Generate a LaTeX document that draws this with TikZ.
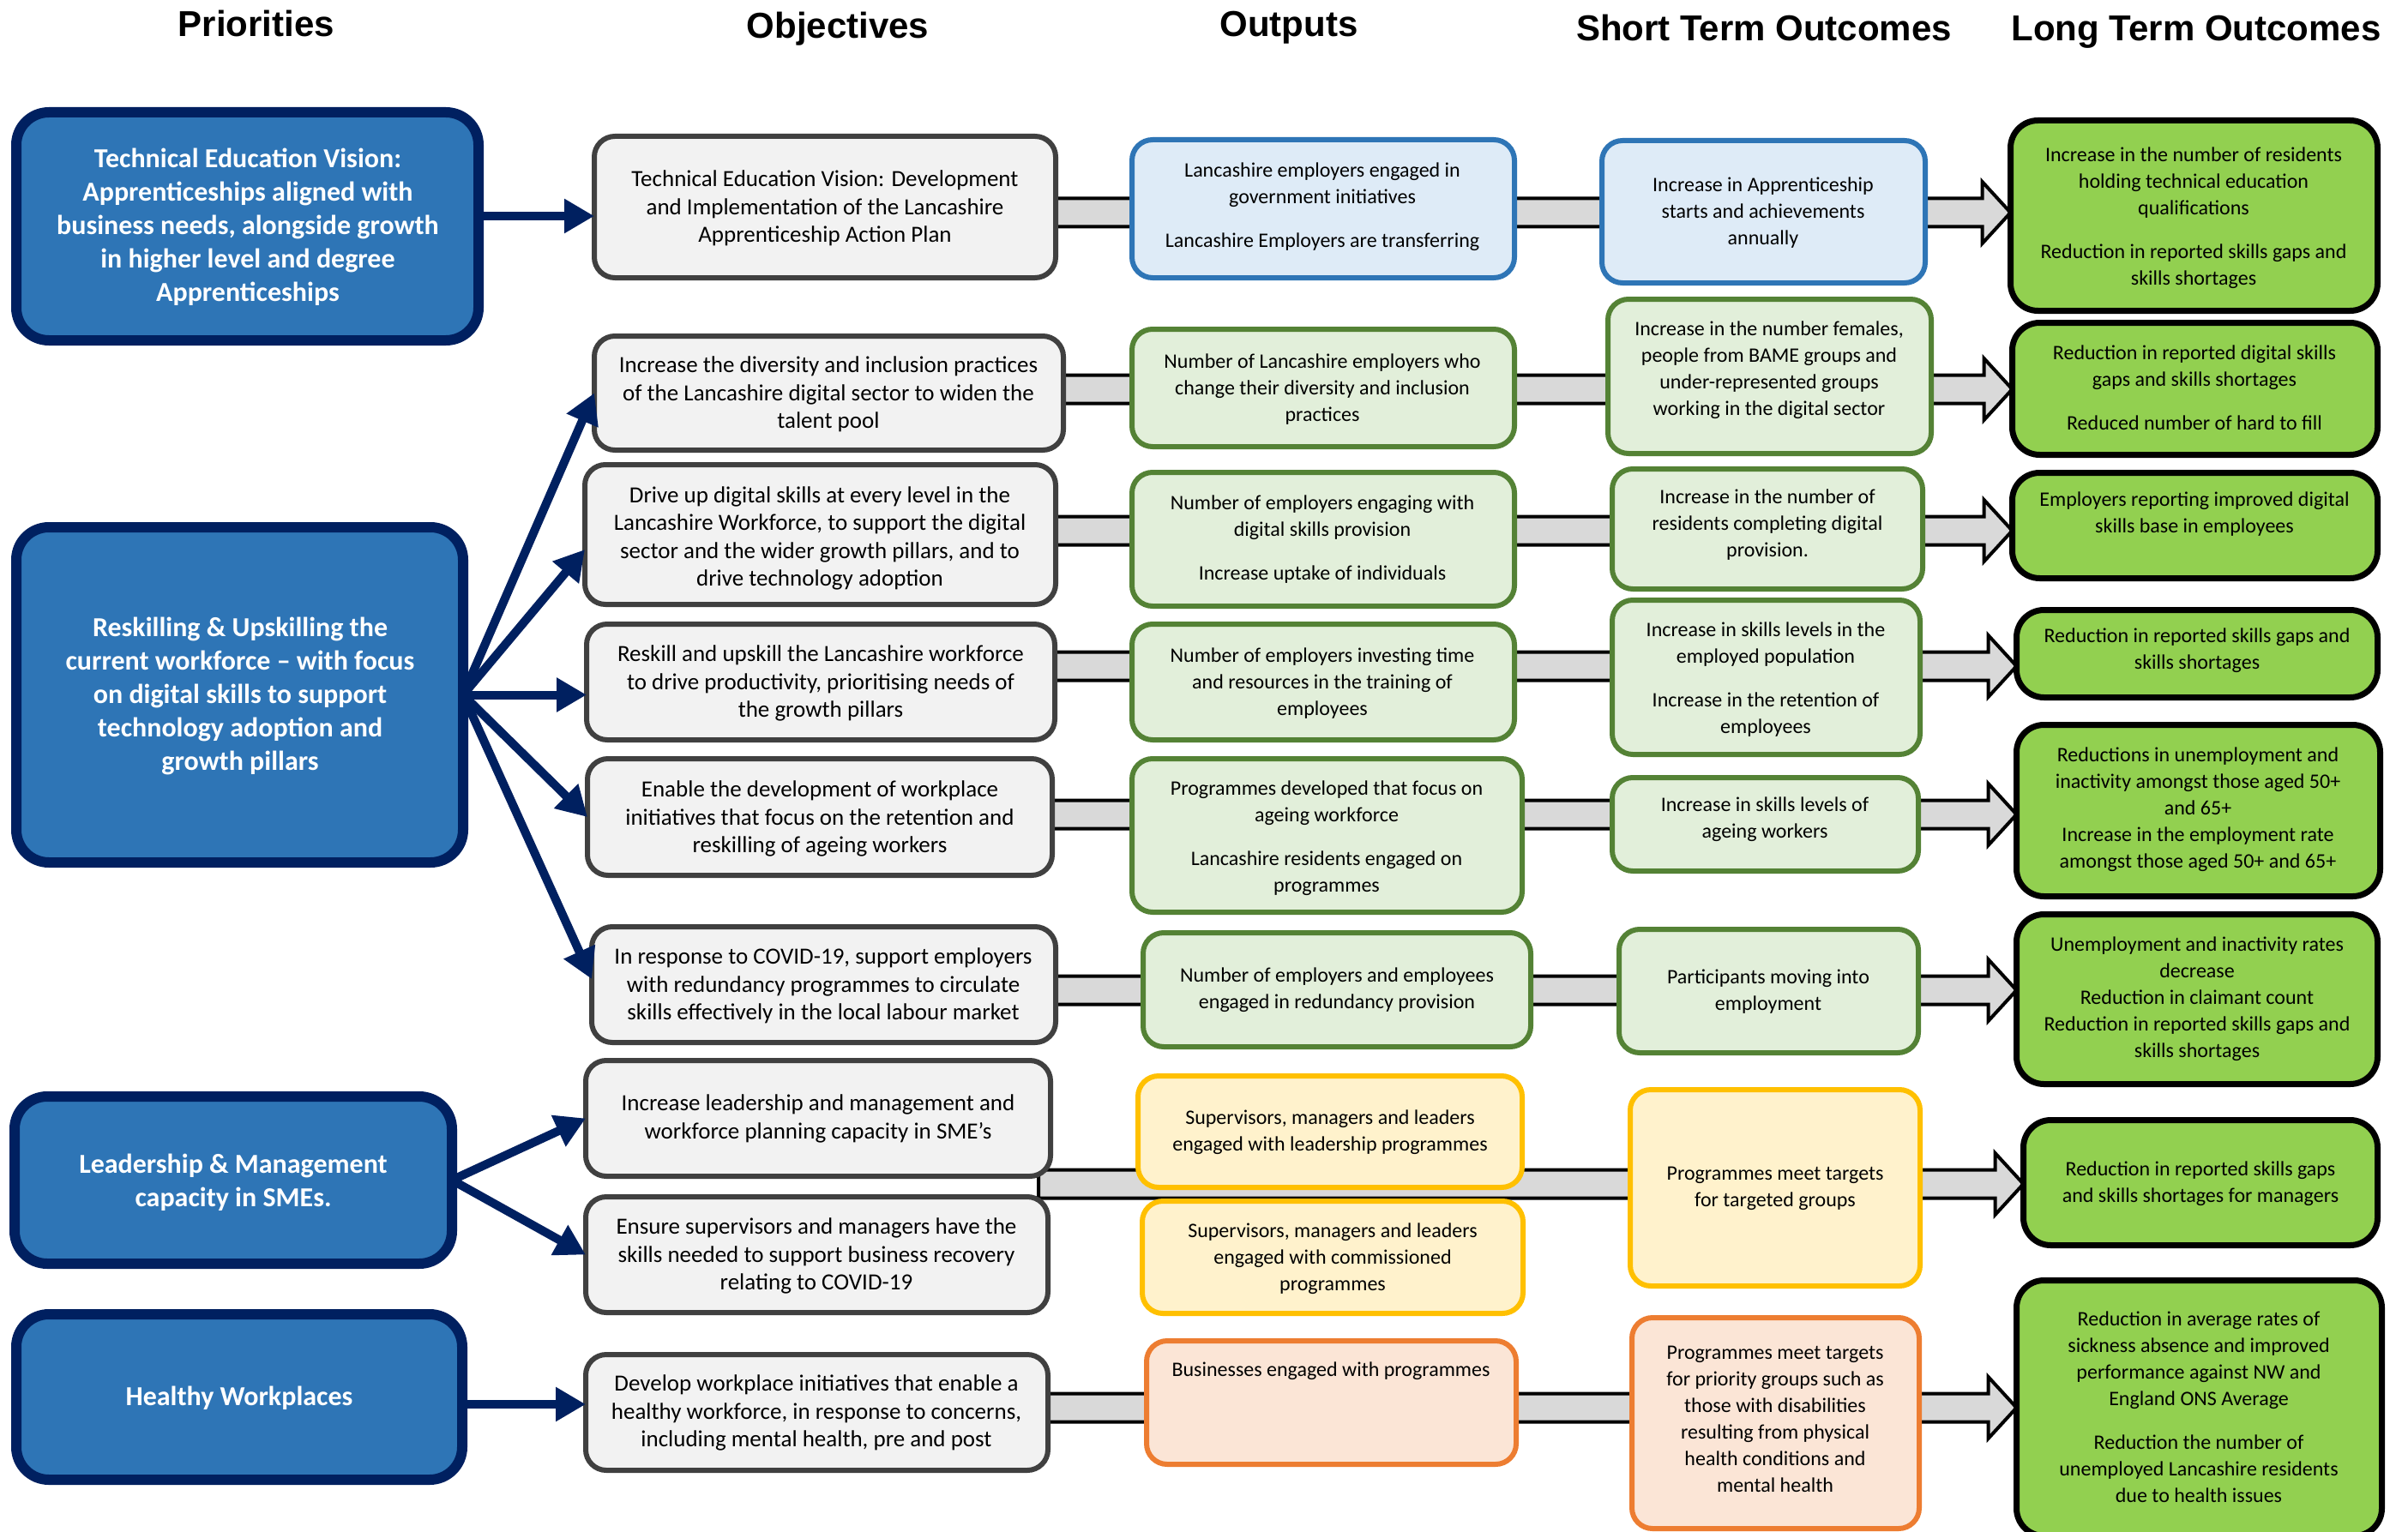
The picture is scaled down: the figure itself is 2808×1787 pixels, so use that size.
\documentclass[tikz,border=0pt]{standalone}
\usepackage{fontspec}
\setmainfont{Carlito}
\newfontfamily\hdrfont{Liberation Sans}
\usetikzlibrary{arrows.meta,calc}
\pgfdeclarelayer{background}
\pgfsetlayers{background,main}

\definecolor{navy}{HTML}{002060}
\definecolor{pblue}{HTML}{2E75B6}
\definecolor{objfill}{HTML}{F2F2F2}
\definecolor{objdraw}{HTML}{404040}
\definecolor{bluefill}{HTML}{DEEBF7}
\definecolor{greenfill}{HTML}{E2EFDA}
\definecolor{greendraw}{HTML}{548235}
\definecolor{ltfill}{HTML}{92D050}
\definecolor{yelfill}{HTML}{FFF2CC}
\definecolor{yeldraw}{HTML}{FFC000}
\definecolor{orfill}{HTML}{FBE5D6}
\definecolor{ordraw}{HTML}{ED7D31}
\definecolor{barfill}{HTML}{D9D9D9}

\tikzset{
  boxbase/.style={rectangle, inner sep=0pt, outer sep=0pt},
  prio/.style={boxbase, fill=pblue, draw=navy, rounded corners=38pt},
  objbox/.style={boxbase, fill=objfill, draw=objdraw, rounded corners=24pt},
  outblue/.style={boxbase, fill=bluefill, draw=pblue, rounded corners=24pt},
  outgreen/.style={boxbase, fill=greenfill, draw=greendraw, rounded corners=24pt},
  outyel/.style={boxbase, fill=yelfill, draw=yeldraw, rounded corners=24pt},
  outor/.style={boxbase, fill=orfill, draw=ordraw, rounded corners=24pt},
  ltbox/.style={boxbase, fill=ltfill, draw=black, rounded corners=32pt},
  ptext/.style={text=white, align=center, inner sep=0pt, font=\bfseries\fontsize{32}{39}\selectfont},
  otext/.style={align=center, inner sep=0pt, font=\fontsize{27}{32.5}\selectfont},
  stext/.style={align=center, inner sep=0pt, font=\fontsize{24}{31}\selectfont},
  hdr/.style={anchor=base, inner sep=0pt, font=\hdrfont\bfseries\fontsize{42}{50}\selectfont},
  navyarrow/.style={draw=navy, line width=10pt, -{Triangle[length=35pt,width=38pt]}},
  bar/.style={fill=barfill, draw=black, line width=4pt, line join=miter},
}

% style, name, x1, y1, x2, y2, line width
\newcommand\mkbox[7]{\node[#1, line width=#7pt, minimum width={#5-#3-#7}, minimum height={#6-#4-#7}] (#2) at ({(#3+#5)/2},{(#4+#6)/2}) {};}
% from node, to node, y
\newcommand\gbar[3]{\path[bar] let \p1=(#1.east |- 0,#3), \p2=(#2.west |- 0,#3) in
  (\x1-14pt,\y1+16.5pt) -- (\x2-33pt,\y1+16.5pt) -- (\x2-33pt,\y1+36pt) -- (\x2,\y1)
  -- (\x2-33pt,\y1-36pt) -- (\x2-33pt,\y1-16.5pt) -- (\x1-14pt,\y1-16.5pt) -- cycle;}

\begin{document}
\begin{tikzpicture}[x=1pt,y=-1pt]
\useasboundingbox (0,0) rectangle (2808,1787);

% headers
\node[hdr] (h1) at (299,43) {Priorities};
\node[hdr] (h2) at (977,45) {Objectives};
\node[hdr] (h3) at (1503,43) {Outputs};
\node[hdr] (h4) at (2057,48) {Short Term Outcomes};
\node[hdr] (h5) at (2561,48) {Long Term Outcomes};

% priorities
\mkbox{prio}{P1}{13}{125}{564}{403}{12}
\mkbox{prio}{P2}{13}{609}{546}{1012}{12}
\mkbox{prio}{P3}{11}{1273}{533}{1480}{12}
\mkbox{prio}{P4}{13}{1527}{545}{1732}{12}
\node[ptext] (P1-t) at (289,265) {Technical Education Vision:\\Apprenticeships aligned with\\business needs, alongside growth\\in higher level and degree\\Apprenticeships};
\node[ptext] (P2-t) at (280,812) {Reskilling \& Upskilling the\\current workforce -- with focus\\on digital skills to support\\technology adoption and\\growth pillars};
\node[ptext] (P3-t) at (272,1379) {Leadership \& Management\\capacity in SMEs.};
\node[ptext] (P4-t) at (279,1631) {Healthy Workplaces};

% objectives
\mkbox{objbox}{O1}{690}{156}{1234}{327}{6}
\mkbox{objbox}{O2}{690}{389}{1243}{528}{6}
\mkbox{objbox}{O3}{679}{539}{1234}{708}{6}
\mkbox{objbox}{O4}{681}{725}{1233}{866}{6}
\mkbox{objbox}{O5}{682}{882}{1230}{1024}{6}
\mkbox{objbox}{O6}{687}{1078}{1234}{1219}{6}
\mkbox{objbox}{O7}{680}{1234}{1228}{1375}{6}
\mkbox{objbox}{O8}{680}{1393}{1225}{1534}{6}
\mkbox{objbox}{O9}{680}{1577}{1225}{1718}{6}
\node[otext] (O1-t) at (962,243) {Technical Education Vision: Development\\and Implementation of the Lancashire\\Apprenticeship Action Plan};
\node[otext] (O2-t) at (966,460) {Increase the diversity and inclusion practices\\of the Lancashire digital sector to widen the\\talent pool};
\node[otext] (O3-t) at (956,628) {Drive up digital skills at every level in the\\Lancashire Workforce, to support the digital\\sector and the wider growth pillars, and to\\drive technology adoption};
\node[otext] (O4-t) at (957,797) {Reskill and upskill the Lancashire workforce\\to drive productivity, prioritising needs of\\the growth pillars};
\node[otext] (O5-t) at (956,955) {Enable the development of workplace\\initiatives that focus on the retention and\\reskilling of ageing workers};
\node[otext] (O6-t) at (960,1150) {In response to COVID-19, support employers\\with redundancy programmes to circulate\\skills effectively in the local labour market};
\node[otext] (O7-t) at (954,1305) {Increase leadership and management and\\workforce planning capacity in SME's};
\node[otext] (O8-t) at (952,1465) {Ensure supervisors and managers have the\\skills needed to support business recovery\\relating to COVID-19};
\node[otext] (O9-t) at (952,1648) {Develop workplace initiatives that enable a\\healthy workforce, in response to concerns,\\including mental health, pre and post};

% outputs
\mkbox{outblue}{U1}{1317}{160}{1769}{327}{6}
\mkbox{outgreen}{U2}{1317}{381}{1769}{524}{6}
\mkbox{outgreen}{U3}{1317}{548}{1769}{710}{6}
\mkbox{outgreen}{U4}{1317}{725}{1769}{866}{6}
\mkbox{outgreen}{U5}{1317}{882}{1778}{1067}{6}
\mkbox{outgreen}{U6}{1330}{1085}{1788}{1224}{6}
\mkbox{outyel}{U7}{1324}{1252}{1778}{1388}{6}
\mkbox{outyel}{U8}{1329}{1398}{1779}{1535}{6}
\mkbox{outor}{U9}{1334}{1561}{1771}{1711}{6}
\node[stext] (U1-t) at (1542,241) {Lancashire employers engaged in\\government initiatives\\[20pt]Lancashire Employers are transferring};
\node[stext] (U2-t) at (1542,454) {Number of Lancashire employers who\\change their diversity and inclusion\\practices};
\node[stext] (U3-t) at (1542,629) {Number of employers engaging with\\digital skills provision\\[20pt]Increase uptake of individuals};
\node[stext] (U4-t) at (1542,797) {Number of employers investing time\\and resources in the training of\\employees};
\node[stext] (U5-t) at (1547,978) {Programmes developed that focus on\\ageing workforce\\[20pt]Lancashire residents engaged on\\programmes};
\node[stext] (U6-t) at (1559,1155) {Number of employers and employees\\engaged in redundancy provision};
\node[stext] (U7-t) at (1551,1321) {Supervisors, managers and leaders\\engaged with leadership programmes};
\node[stext] (U8-t) at (1554,1468) {Supervisors, managers and leaders\\engaged with commissioned\\programmes};
\node[stext] (U9-t) at (1552,1599) {Businesses engaged with programmes};

% short term outcomes
\mkbox{outblue}{S1}{1865}{161}{2248}{333}{6}
\mkbox{outgreen}{S2}{1872}{346}{2255}{532}{6}
\mkbox{outgreen}{S3}{1877}{544}{2245}{690}{6}
\mkbox{outgreen}{S4}{1877}{697}{2242}{883}{6}
\mkbox{outgreen}{S5}{1877}{904}{2240}{1019}{6}
\mkbox{outgreen}{S6}{1885}{1081}{2240}{1231}{6}
\mkbox{outyel}{S7}{1898}{1268}{2242}{1503}{6}
\mkbox{outor}{S8}{1900}{1534}{2241}{1786}{6}
\node[stext] (S1-t) at (2056,248) {Increase in Apprenticeship\\starts and achievements\\annually};
\node[stext] (S2-t) at (2063,432) {Increase in the number females,\\people from BAME groups and\\under-represented groups\\working in the digital sector};
\node[stext] (S3-t) at (2061,612) {Increase in the number of\\residents completing digital\\provision.};
\node[stext] (S4-t) at (2059,793) {Increase in skills levels in the\\employed population\\[20pt]Increase in the retention of\\employees};
\node[stext] (S5-t) at (2058,956) {Increase in skills levels of\\ageing workers};
\node[stext] (S6-t) at (2062,1157) {Participants moving into\\employment};
\node[stext] (S7-t) at (2070,1386) {Programmes meet targets\\for targeted groups};
\node[stext] (S8-t) at (2070,1655) {Programmes meet targets\\for priority groups such as\\those with disabilities\\resulting from physical\\health conditions and\\mental health};

% long term outcomes
\mkbox{ltbox}{L1}{2341}{137}{2776}{366}{7}
\mkbox{ltbox}{L2}{2343}{373}{2776}{534}{7}
\mkbox{ltbox}{L3}{2343}{548}{2776}{678}{7}
\mkbox{ltbox}{L4}{2348}{708}{2776}{817}{7}
\mkbox{ltbox}{L5}{2348}{842}{2779}{1049}{7}
\mkbox{ltbox}{L6}{2348}{1063}{2776}{1268}{7}
\mkbox{ltbox}{L7}{2356}{1303}{2776}{1456}{7}
\mkbox{ltbox}{L8}{2348}{1490}{2781}{1795}{7}
\node[stext] (L1-t) at (2558,254) {Increase in the number of residents\\holding technical education\\qualifications\\[20pt]Reduction in reported skills gaps and\\skills shortages};
\node[stext] (L2-t) at (2559,452) {Reduction in reported digital skills\\gaps and skills shortages\\[20pt]Reduced number of hard to fill};
\node[stext] (L3-t) at (2559,600) {Employers reporting improved digital\\skills base in employees};
\node[stext] (L4-t) at (2562,759) {Reduction in reported skills gaps and\\skills shortages};
\node[stext] (L5-t) at (2563,944) {Reductions in unemployment and\\inactivity amongst those aged 50+\\and 65+\\Increase in the employment rate\\amongst those aged 50+ and 65+};
\node[stext] (L6-t) at (2562,1165) {Unemployment and inactivity rates\\decrease\\Reduction in claimant count\\Reduction in reported skills gaps and\\skills shortages};
\node[stext] (L7-t) at (2566,1381) {Reduction in reported skills gaps\\and skills shortages for managers};
\node[stext] (L8-t) at (2564,1641) {Reduction in average rates of\\sickness absence and improved\\performance against NW and\\England ONS Average\\[20pt]Reduction the number of\\unemployed Lancashire residents\\due to health issues};

% priority -> objective arrows
\draw[navyarrow] (P1.east |- 0,252) -- (O1.west |- 0,252);
\draw[navyarrow] (P2.east) -- (O2.west);
\draw[navyarrow] (P2.east) -- (O3.west |- 0,641);
\draw[navyarrow] (P2.east) -- (O4.west |- P2.east);
\draw[navyarrow] (P2.east) -- (O5.west);
\draw[navyarrow] (P2.east) -- (O6.west |- 0,1142);
\draw[navyarrow] (P3.east) -- (O7.west);
\draw[navyarrow] (P3.east) -- (O8.west);
\draw[navyarrow] (P4.east |- 0,1638) -- (O9.west |- 0,1638);

% big grey flow arrows behind the boxes
\begin{pgfonlayer}{background}
\fill[white] (0,0) rectangle (2808,1787);
\gbar{O1}{L1}{248}
\gbar{O2}{L2}{454}
\gbar{O3}{L3}{619}
\gbar{O4}{L4}{777}
\gbar{O5}{L5}{950}
\gbar{O6}{L6}{1155}
\gbar{O7}{L7}{1381}
\gbar{O9}{L8}{1642}
\end{pgfonlayer}
\end{tikzpicture}
\end{document}
